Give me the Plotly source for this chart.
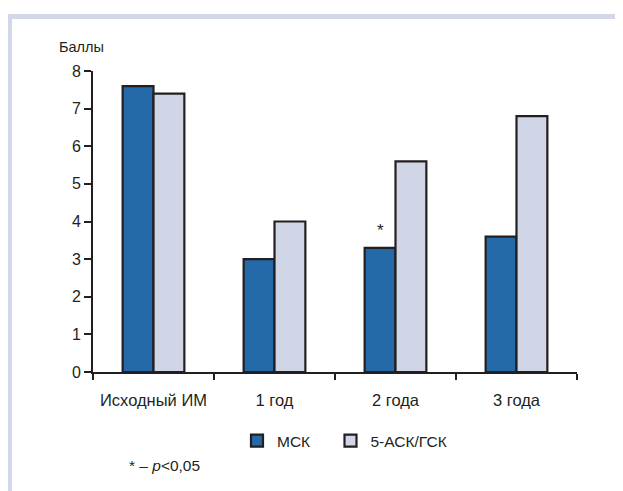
import plotly.graph_objects as go

categories = ["Исходный ИМ", "1 год", "2 года", "3 года"]
msk = [7.6, 3.0, 3.3, 3.6]
ask = [7.4, 4.0, 5.6, 6.8]
series_names = ["МСК", "5-АСК/ГСК"]
y_ticks = [0, 1, 2, 3, 4, 5, 6, 7, 8]

DARK = "#246aa9"
LIGHT = "#d1d6e7"
EDGE = "#231f20"
FRAME = "#d3d8e8"
FONT = "Liberation Sans, Arial, sans-serif"

# page is rendered with an 8px body margin; the figure overflows the window by 8px
OFF = 8
W, H = 623, 491
L, R, T, B = 85, 54, 63, 127
pw, ph = W - L - R, H - T - B

def px(x):  # page pixel -> paper x
    return (x - OFF - L) / pw

def py(y):  # page pixel -> paper y
    return (H - B - (y - OFF)) / ph

fig = go.Figure()
fig.add_trace(go.Bar(x=categories, y=msk, name=series_names[0], legend="legend",
                     marker=dict(color=DARK, line=dict(color=EDGE, width=2.2))))
fig.add_trace(go.Bar(x=categories, y=ask, name=series_names[1], legend="legend2",
                     marker=dict(color=LIGHT, line=dict(color=EDGE, width=2.2))))

leg_common = dict(orientation="h", xanchor="left", yanchor="middle", y=py(441),
                  font=dict(size=15.5), bgcolor="rgba(0,0,0,0)")

fig.update_layout(
    width=W, height=H,
    margin=dict(l=L, r=R, t=T, b=B),
    paper_bgcolor="white", plot_bgcolor="white",
    barmode="group", bargap=0.49, bargroupgap=0,
    font=dict(family=FONT, size=15.5, color=EDGE),
    showlegend=True,
    legend=dict(x=px(237), **leg_common),
    legend2=dict(x=px(330.5), **leg_common),
    xaxis=dict(type="category", showline=True, linecolor=EDGE, linewidth=2,
               ticks="outside", tickson="boundaries", ticklen=6, tickwidth=2, tickcolor=EDGE,
               ticklabelstandoff=12,
               showgrid=False, zeroline=False, tickfont=dict(size=16.5)),
    yaxis=dict(range=[0, 8], tickvals=y_ticks, showline=True, linecolor=EDGE, linewidth=2,
               ticks="outside", ticklen=7, tickwidth=2, tickcolor=EDGE,
               showgrid=False, zeroline=False, tickfont=dict(size=16)),
    shapes=[
        dict(type="rect", xref="paper", yref="paper", x0=px(8), x1=px(12), y0=py(14), y1=-0.6,
             fillcolor=FRAME, line=dict(width=0), layer="below"),
        dict(type="rect", xref="paper", yref="paper", x0=px(8), x1=1.3, y0=py(14), y1=py(19),
             fillcolor=FRAME, line=dict(width=0), layer="below"),
    ],
    annotations=[
        dict(text="Баллы", xref="paper", yref="paper", x=px(57), y=py(47),
             xanchor="left", yanchor="middle", showarrow=False, font=dict(size=14.5)),
        dict(text="* – <i>p</i><0,05", xref="paper", yref="paper", x=px(127), y=py(465),
             xanchor="left", yanchor="middle", showarrow=False, font=dict(size=15.5)),
        dict(text="*", xref="x", yref="y", x=categories[2], y=msk[2], xshift=-15.5, yshift=6,
             xanchor="center", yanchor="bottom", showarrow=False, font=dict(size=17)),
    ],
)

fig.write_html("out.html")
